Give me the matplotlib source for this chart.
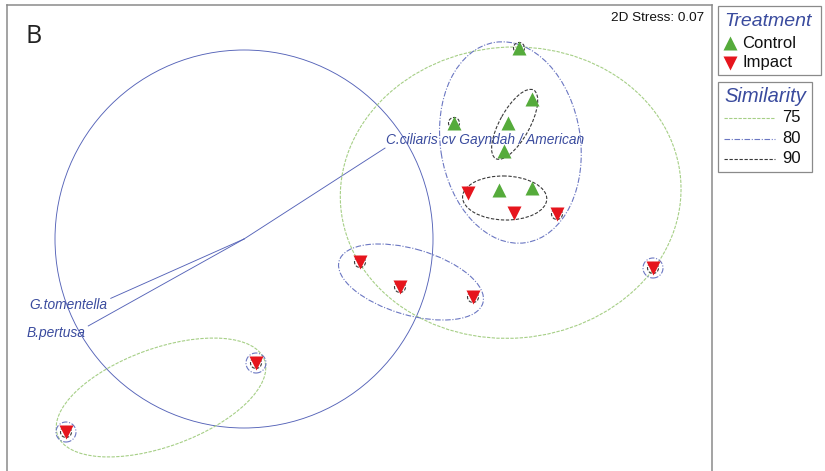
import numpy as np
import matplotlib
matplotlib.use("Agg")
import matplotlib.pyplot as plt
from matplotlib.patches import Ellipse, Circle, Rectangle
from matplotlib.lines import Line2D

# ---------------- data ----------------
treatments = ["Control", "Impact"]
mds1_control = [1.59, 1.72, 0.94, 1.48, 1.44, 1.39, 1.72]
mds2_control = [1.92, 1.41, 1.17, 1.17, 0.89, 0.50, 0.52]
mds1_impact = [1.08, 1.54, 1.97, 0.00, 0.40, 1.13, 2.93, -1.04, -2.94]
mds2_impact = [0.47, 0.27, 0.26, -0.22, -0.47, -0.57, -0.28, -1.23, -1.92]
stress = 0.07

similarity_levels = [75, 80, 90]
# cluster membership (sample index: controls 0-6, impacts 7-15)
clusters_75 = [[0, 1, 2, 3, 4, 5, 6, 7, 8, 9, 10, 11, 12, 13], [14, 15]]
clusters_80 = [[0, 1, 2, 3, 4, 5, 6, 7, 8, 9], [10, 11, 12], [13], [14], [15]]
clusters_90 = [[1, 3, 4], [5, 6, 7, 8], [0], [2], [9], [10], [11], [12], [13], [14], [15]]

species = ["C.ciliaris cv Gayndah / American", "G.tomentella", "B.pertusa"]
vec_x = [0.746, -0.705, -0.824]
vec_y = [0.481, -0.314, -0.460]

# ---------------- styles ----------------
W, H = 825, 471
GREEN = "#55ab3b"
RED = "#e6151d"
LABEL_BLUE = "#3a4b9e"
level_style = {
    75: dict(color="#a6cf86", ls=(0, (3, 1.2)), lw=0.8),
    80: dict(color="#6b77c2", ls=(0, (5, 1.5, 1, 1.5)), lw=0.8),
    90: dict(color="#3a3a3a", ls=(0, (3, 1.5)), lw=0.8),
}
# (pad, minimum minor semi-axis) for each multi-member cluster, in MDS units
pads = {
    75: [(0.01, 0.0), (0.09, 0.49)],
    80: [(0.0, 0.70), (0.06, 0.33)],
    90: [(0.05, 0.15), (0.04, 0.22)],
}
single_r = {75: 0.12, 80: 0.10, 90: 0.055}
vec_origin = (-1.16, 0.01)
vec_radius = 1.89

fig = plt.figure(figsize=(W / 100, H / 100), dpi=100)
fig.patch.set_facecolor("white")

def fx(px):
    return px / W

def fy(py):
    return 1 - py / H

ax = fig.add_axes([fx(7), fy(481), 705 / W, 476 / H])
ax.set_xlim(-3.53, 3.52)
ax.set_ylim(-2.41, 2.35)
ax.set_xticks([])
ax.set_yticks([])
for s in ["left", "top", "right", "bottom"]:
    ax.spines[s].set_color("#8a8a8a")
    ax.spines[s].set_linewidth(1.1)

X = np.array(mds1_control + mds1_impact)
Y = np.array(mds2_control + mds2_impact)
P_all = np.column_stack([X, Y])


def mvee(P, tol=1e-9):
    N, d = P.shape
    Q = np.vstack([P.T, np.ones(N)])
    u = np.ones(N) / N
    for _ in range(20000):
        Xm = Q @ np.diag(u) @ Q.T
        M = np.einsum("ij,ji->i", Q.T @ np.linalg.inv(Xm), Q)
        j = np.argmax(M)
        mx = M[j]
        step = (mx - d - 1) / ((d + 1) * (mx - 1))
        nu = (1 - step) * u
        nu[j] += step
        if np.linalg.norm(nu - u) < tol:
            u = nu
            break
        u = nu
    c = P.T @ u
    A = np.linalg.inv(P.T @ np.diag(u) @ P - np.outer(c, c)) / d
    vals, vecs = np.linalg.eigh(A)
    axes_ = 1 / np.sqrt(vals)
    k = np.argmax(axes_)
    a = axes_[k]
    b = axes_[1 - k]
    ang = np.degrees(np.arctan2(vecs[1, k], vecs[0, k]))
    return c, a, b, ang


def draw_cluster(members, level, pad=(0.0, 0.0)):
    st = level_style[level]
    P = P_all[members]
    if len(members) == 1:
        ax.add_patch(Circle(P[0], single_r[level], fill=False, ec=st["color"],
                            ls=st["ls"], lw=st["lw"], zorder=2))
        return
    if len(members) == 2:
        c = P.mean(axis=0)
        dv = P[1] - P[0]
        a = np.hypot(*dv) / 2
        b = 0.0
        ang = np.degrees(np.arctan2(dv[1], dv[0]))
    else:
        c, a, b, ang = mvee(P)
    a2 = a + pad[0]
    b2 = max(b + pad[0], pad[1])
    ax.add_patch(Ellipse(c, 2 * a2, 2 * b2, angle=ang, fill=False, ec=st["color"],
                         ls=st["ls"], lw=st["lw"], zorder=2))


for level, clusters in zip(similarity_levels, [clusters_75, clusters_80, clusters_90]):
    k = 0
    for mem in clusters:
        if len(mem) > 1:
            draw_cluster(mem, level, pads[level][k])
            k += 1
        else:
            draw_cluster(mem, level)

# vector circle and vectors
ax.add_patch(Circle(vec_origin, vec_radius, fill=False, ec="#5563b8", lw=0.65, zorder=1))
for name, vx, vy in zip(species, vec_x, vec_y):
    ex = vec_origin[0] + vx * vec_radius
    ey = vec_origin[1] + vy * vec_radius
    ax.plot([vec_origin[0], ex], [vec_origin[1], ey], color="#5563b8", lw=0.65, zorder=1)
    if vx > 0:
        off, ha = (1, 8), "left"
    else:
        off, ha = (-3, -7), "right"
    ax.annotate(name, (ex, ey), xytext=off, textcoords="offset pixels", ha=ha, va="center",
                fontsize=9.9, style="italic", color=LABEL_BLUE, family="Liberation Sans")

# points
ax.plot(mds1_control, mds2_control, ls="none", marker="^", ms=9.5, mfc=GREEN, mec="none", zorder=4)
ax.plot(mds1_impact, mds2_impact, ls="none", marker="v", ms=9.5, mfc=RED, mec="none", zorder=4)

# panel label and stress
fig.text(fx(26), fy(43), "B", fontsize=18, family="Open Sans", va="baseline", ha="left", color="#222222")
fig.text(fx(704), fy(18), f"2D Stress: {stress:.2f}", fontsize=9.7, family="Liberation Sans",
         ha="right", va="center", color="#111111")

# legends
fig.add_artist(Rectangle((fx(718), fy(75)), 103 / W, 69 / H, transform=fig.transFigure,
                         fill=False, ec="#8a8a8a", lw=0.9))
fig.text(fx(724), fy(21), "Treatment", fontsize=14, style="italic", color=LABEL_BLUE,
         family="Liberation Sans", va="center", ha="left")
for i, (lab, mk, col) in enumerate(zip(treatments, ["^", "v"], [GREEN, RED])):
    yy = fy(43 + 20 * i)
    fig.add_artist(Line2D([fx(730)], [yy], transform=fig.transFigure, marker=mk, ms=9.5,
                          mfc=col, mec="none", ls="none"))
    fig.text(fx(742), yy, lab, fontsize=12, family="Liberation Sans", va="center", ha="left",
             color="#111111")

fig.add_artist(Rectangle((fx(718), fy(172)), 94 / W, 90 / H, transform=fig.transFigure,
                         fill=False, ec="#8a8a8a", lw=0.9))
fig.text(fx(724), fy(96), "Similarity", fontsize=14.5, style="italic", color=LABEL_BLUE,
         family="Liberation Sans", va="center", ha="left")
for i, lev in enumerate(similarity_levels):
    yy = fy(118 + 20.5 * i)
    st = level_style[lev]
    fig.add_artist(Line2D([fx(724), fx(775)], [yy, yy], transform=fig.transFigure,
                          color=st["color"], ls=st["ls"], lw=st["lw"]))
    fig.text(fx(801), yy, str(lev), fontsize=12, family="Liberation Sans", va="center", ha="right",
             color="#111111")

fig.savefig("out.png", dpi=100, facecolor="white")
